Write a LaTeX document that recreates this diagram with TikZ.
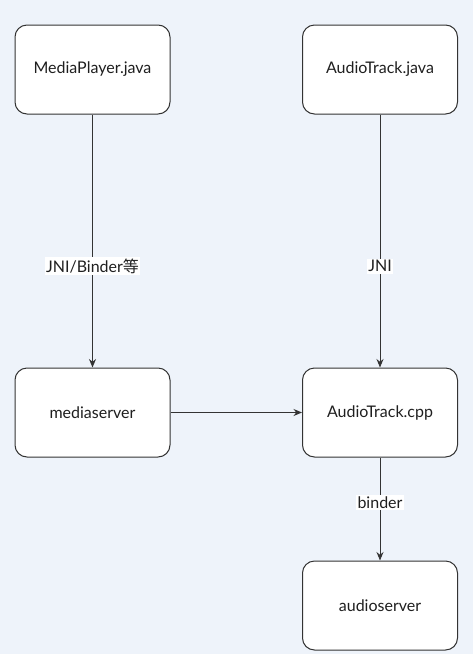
\documentclass[tikz,border=0pt]{standalone}
\usepackage{fontspec}
\setmainfont{Lato}
\newfontfamily\cjkfont{Noto Sans CJK SC}
\usetikzlibrary{arrows.meta}
\definecolor{bgcol}{HTML}{EEF3FA}
\definecolor{edgecol}{HTML}{333333}
\definecolor{txtcol}{HTML}{1F1F1F}
\begin{document}
\begin{tikzpicture}[x=1pt,y=-1pt]
\tikzstyle{every node}+=[font=\fontsize{16}{18}\selectfont, text=txtcol]
\tikzstyle{blk}=[draw=edgecol, fill=white, rounded corners=12pt, minimum width=155pt, minimum height=89pt, line width=1pt]
\tikzstyle{lbl}=[fill=white, inner sep=1.5pt]
\tikzstyle{arr}=[draw=edgecol, line width=1pt, -{Stealth[length=8.5pt,width=7pt]}]
% background
\fill [bgcol] (0,0) rectangle (473,654);
% boxes
\node [blk] (mpjava) at (92.5,69.5) {MediaPlayer.java};
\node [blk] (atjava) at (380,69.5) {AudioTrack.java};
\node [blk] (mserver) at (92.5,412.5) {mediaserver};
\node [blk] (atcpp) at (380,412.5) {AudioTrack.cpp};
\node [blk] (aserver) at (380,605.5) {audioserver};
% connectors
\draw [arr] (mpjava) -- node [lbl, pos=0.6] {JNI/Binder{\cjkfont 等}} (mserver);
\draw [arr] (atjava) -- node [lbl, pos=0.6] {JNI} (atcpp);
\draw [arr] (mserver) -- (atcpp);
\draw [arr] (atcpp) -- node [lbl, pos=0.44] {binder} (aserver);
\end{tikzpicture}
\end{document}
